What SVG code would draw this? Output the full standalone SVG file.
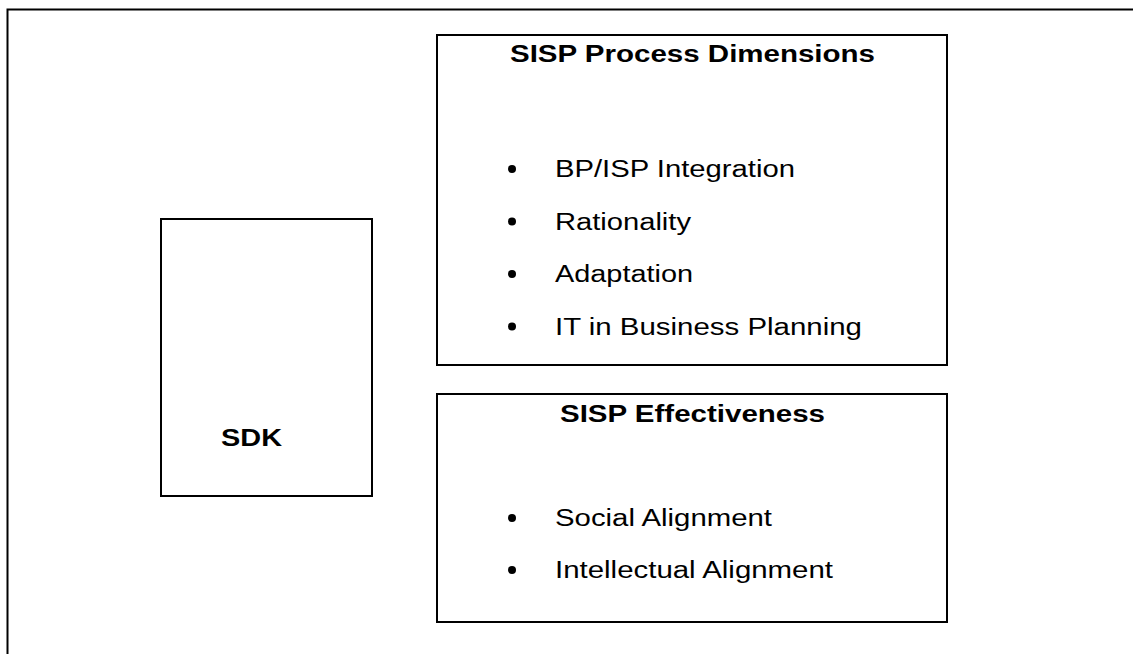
<svg xmlns="http://www.w3.org/2000/svg" width="1133" height="654" viewBox="0 0 1133 654">
<style>
.box{fill:#fff;stroke:#000;stroke-width:2}
.t{font-family:"Liberation Sans",Arial,sans-serif;font-size:23px;fill:#000}
.b{font-weight:bold}
.dot{fill:#000}
</style>
<rect width="1133" height="654" fill="#fff"/>
<g id="frame"><path d="M7.5,660 V9.5 H1140" fill="none" stroke="#000" stroke-width="2"/></g>
<g id="sdk">
<rect class="box" x="161" y="219" width="211" height="277"/>
<text class="t b" x="221" y="446" textLength="61" lengthAdjust="spacingAndGlyphs">SDK</text>
</g>
<g id="process">
<rect class="box" x="437" y="35" width="510" height="330"/>
<text class="t b" x="510" y="62" textLength="365" lengthAdjust="spacingAndGlyphs">SISP Process Dimensions</text>
<circle class="dot" cx="512" cy="169" r="4"/>
<text class="t" x="555" y="177" textLength="240" lengthAdjust="spacingAndGlyphs">BP/ISP Integration</text>
<circle class="dot" cx="512" cy="221.5" r="4"/>
<text class="t" x="555" y="229.5" textLength="136" lengthAdjust="spacingAndGlyphs">Rationality</text>
<circle class="dot" cx="512" cy="274" r="4"/>
<text class="t" x="555" y="282" textLength="138" lengthAdjust="spacingAndGlyphs">Adaptation</text>
<circle class="dot" cx="512" cy="326.5" r="4"/>
<text class="t" x="555" y="334.5" textLength="307" lengthAdjust="spacingAndGlyphs">IT in Business Planning</text>
</g>
<g id="effectiveness">
<rect class="box" x="437" y="394" width="510" height="228"/>
<text class="t b" x="560" y="422" textLength="265" lengthAdjust="spacingAndGlyphs">SISP Effectiveness</text>
<circle class="dot" cx="512" cy="518" r="4"/>
<text class="t" x="555" y="526" textLength="217" lengthAdjust="spacingAndGlyphs">Social Alignment</text>
<circle class="dot" cx="512" cy="570" r="4"/>
<text class="t" x="555" y="578" textLength="278" lengthAdjust="spacingAndGlyphs">Intellectual Alignment</text>
</g>
<g id="connectors"></g>
</svg>
